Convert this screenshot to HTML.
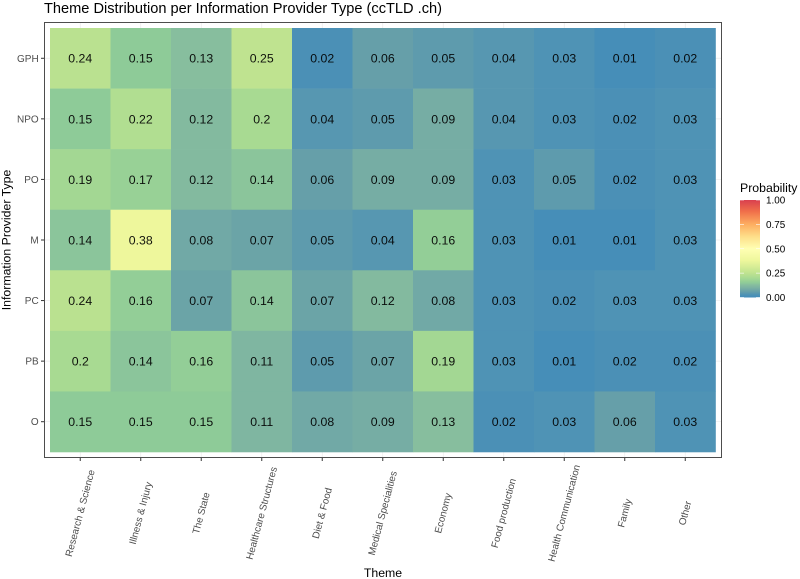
<!DOCTYPE html>
<html lang="en">
<head>
<meta charset="utf-8">
<title>Theme Distribution per Information Provider Type</title>
<style>
html,body{margin:0;padding:0;background:#fff;}
svg{display:block;font-family:"Liberation Sans",Arial,sans-serif;}
</style>
</head>
<body>
<svg id="chart" width="800" height="579" viewBox="0 0 800 579" xmlns="http://www.w3.org/2000/svg">
  <defs>
    <linearGradient id="legend-gradient" x1="0" y1="1" x2="0" y2="0"></linearGradient>
  </defs>
  <rect x="0" y="0" width="800" height="579" fill="#fff"></rect>
  <text x="44" y="13" font-size="14.6" fill="#000">Theme Distribution per Information Provider Type (ccTLD .ch)</text>
  <g id="grid"></g>
  <g id="cells"></g>
  <g id="labels"></g>
  <rect x="44.5" y="22.5" width="677" height="435" fill="none" stroke="#4d4d4d" stroke-width="1"></rect>
  <g id="x-axis"></g>
  <g id="y-axis"></g>
  <text x="383" y="577" font-size="12.3" text-anchor="middle" fill="#000">Theme</text>
  <text transform="translate(10.5,240) rotate(-90)" font-size="12.3" text-anchor="middle" fill="#000">Information Provider Type</text>
  <g id="legend">
    <text x="740" y="192" font-size="12.3" fill="#000">Probability</text>
    <rect x="740" y="200" width="20" height="97.5" fill="url(#legend-gradient)"></rect>
  </g>
</svg>
<script>
const themes = ["Research & Science","Illness & Injury","The State","Healthcare Structures","Diet & Food","Medical Specialities","Economy","Food production","Health Communication","Family","Other"];
const providers = ["GPH","NPO","PO","M","PC","PB","O"];
const rowGPH = [0.24,0.15,0.13,0.25,0.02,0.06,0.05,0.04,0.03,0.01,0.02];
const rowNPO = [0.15,0.22,0.12,0.2,0.04,0.05,0.09,0.04,0.03,0.02,0.03];
const rowPO = [0.19,0.17,0.12,0.14,0.06,0.09,0.09,0.03,0.05,0.02,0.03];
const rowM = [0.14,0.38,0.08,0.07,0.05,0.04,0.16,0.03,0.01,0.01,0.03];
const rowPC = [0.24,0.16,0.07,0.14,0.07,0.12,0.08,0.03,0.02,0.03,0.03];
const rowPB = [0.2,0.14,0.16,0.11,0.05,0.07,0.19,0.03,0.01,0.02,0.02];
const rowO = [0.15,0.15,0.15,0.11,0.08,0.09,0.13,0.02,0.03,0.06,0.03];
const matrix = [rowGPH,rowNPO,rowPO,rowM,rowPC,rowPB,rowO];
const legendTicks = [0,0.25,0.5,0.75,1];

const colorStops = [
  [0,"#428bb9"],[0.03,"#4f93b5"],[0.06,"#669fa9"],[0.1,"#7bb2a2"],[0.13,"#87be9e"],[0.15,"#8ecb98"],
  [0.2,"#a8da92"],[0.25,"#bfe390"],[0.38,"#eef79c"],[0.5,"#ffffb3"],
  [0.62,"#fee08b"],[0.75,"#fdae61"],[0.88,"#f0704a"],[1,"#d9404f"]
];
const NS = "http://www.w3.org/2000/svg";
function hexToRgb(h){return [1,3,5].map(function(i){return parseInt(h.substr(i,2),16);});}
function colorScale(v){
  for(let i=1;i<colorStops.length;i++){
    if(v<=colorStops[i][0]){
      const a=colorStops[i-1],b=colorStops[i];
      const t=(v-a[0])/(b[0]-a[0]);
      const ca=hexToRgb(a[1]),cb=hexToRgb(b[1]);
      return "rgb("+ca.map(function(c,k){return Math.round(c+(cb[k]-c)*t);}).join(",")+")";
    }
  }
  return colorStops[colorStops.length-1][1];
}
const plotLeft=50, cellW=60.5, plotTop=28, cellH=60.57;
function xScale(i){return plotLeft+cellW*(i+0.5);}
function yScale(j){return plotTop+cellH*(j+0.5);}
function legendY(v){return 297.5-97.5*v;}
function make(tag,attrs,parent,text){
  const el=document.createElementNS(NS,tag);
  Object.keys(attrs).forEach(function(k){el.setAttribute(k,attrs[k]);});
  if(text!==undefined){el.textContent=text;}
  parent.appendChild(el);
  return el;
}
const grid=document.getElementById("grid");
const cells=document.getElementById("cells");
const labels=document.getElementById("labels");
const xAxis=document.getElementById("x-axis");
const yAxis=document.getElementById("y-axis");
const legend=document.getElementById("legend");
const gradient=document.getElementById("legend-gradient");

themes.forEach(function(t,i){
  const line=make("line",{x1:xScale(i),x2:xScale(i),y1:23,y2:457,stroke:"#ebebeb","stroke-width":0.7},grid);
  
  
});
providers.forEach(function(p,j){
  const line=make("line",{x1:45,x2:721,y1:yScale(j),y2:yScale(j),stroke:"#ebebeb","stroke-width":0.7},grid);
  
  
});

matrix.forEach(function(row,j){
  row.forEach(function(v,i){
    const rect=make("rect",{x:xScale(i)-cellW/2,y:yScale(j)-cellH/2,width:cellW+0.3,height:cellH+0.3,fill:colorScale(v)},cells);
    
    
    const txt=make("text",{x:xScale(i),y:yScale(j)+4.4,"font-size":12.3,"text-anchor":"middle",fill:"#000","fill-opacity":0.92},labels,String(v));
    
    
  });
});

themes.forEach(function(t,i){
  const tick=make("line",{x1:xScale(i),x2:xScale(i),y1:458,y2:461,stroke:"#333","stroke-width":1},xAxis);
  
  
  const label=make("text",{transform:"translate("+(xScale(i)+3)+",514) rotate(-75)","font-size":9.9,"text-anchor":"middle",fill:"#4d4d4d"},xAxis,t);
  
  
});
providers.forEach(function(p,j){
  const tick=make("line",{x1:41,x2:44,y1:yScale(j),y2:yScale(j),stroke:"#333","stroke-width":1},yAxis);
  
  
  const label=make("text",{x:38.7,y:yScale(j)+3.5,"font-size":10,"text-anchor":"end",fill:"#4d4d4d"},yAxis,p);
  
  
});

colorStops.forEach(function(s){
  make("stop",{offset:s[0],"stop-color":s[1]},gradient);
});
legendTicks.forEach(function(v){
  const left=make("line",{x1:740,x2:744,y1:legendY(v),y2:legendY(v),stroke:"#fff","stroke-width":0.6},legend);
  
  
  const right=make("line",{x1:756,x2:760,y1:legendY(v),y2:legendY(v),stroke:"#fff","stroke-width":0.6},legend);
  
  
  const label=make("text",{x:766,y:legendY(v)+3.5,"font-size":9.9,fill:"#000"},legend,v.toFixed(2));
  
  
});
</script>
</body>
</html>
